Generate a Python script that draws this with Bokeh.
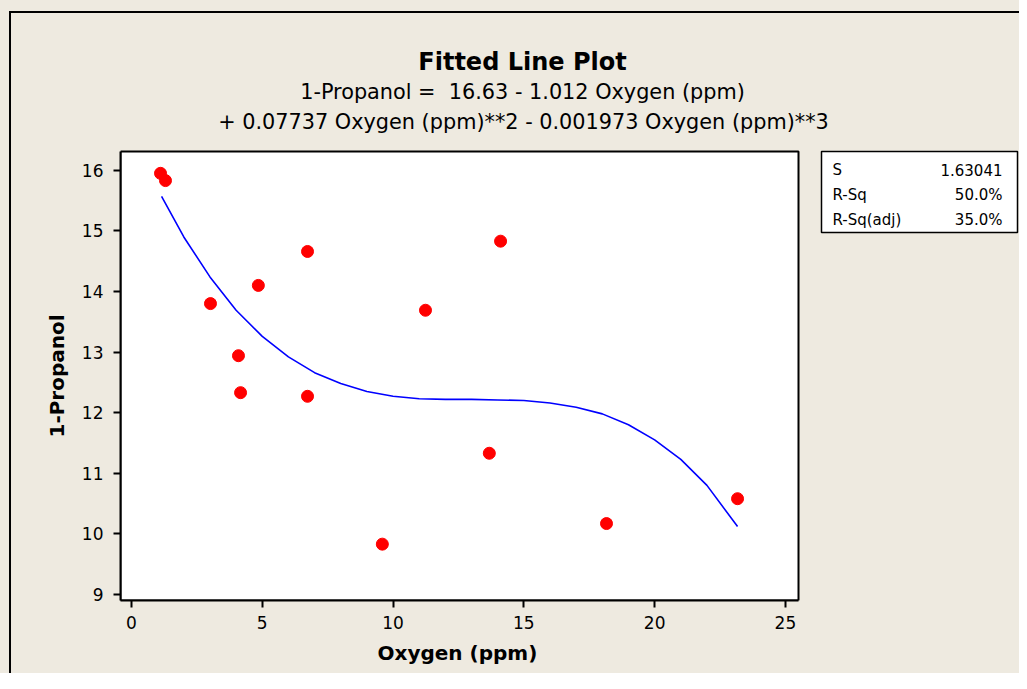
from bokeh.plotting import figure
from bokeh.models import Label, BoxAnnotation, Range1d, FixedTicker, Title
from bokeh.embed import file_html
from bokeh.resources import INLINE

# ---- data ----
oxygen = [1.11, 1.30, 3.02, 4.09, 4.17, 4.85, 6.73, 6.73, 9.59, 11.24, 13.68, 14.11, 18.16, 23.17]
propanol = [15.95, 15.83, 13.80, 12.94, 12.33, 14.10, 14.66, 12.27, 9.83, 13.69, 11.33, 14.83, 10.17, 10.58]

fit_x = [1.15, 2.0, 3.0, 4.0, 5.0, 6.0, 7.0, 8.0, 9.0, 10.0, 11.0, 12.0, 13.0, 14.0,
         15.0, 16.0, 17.0, 18.0, 19.0, 20.0, 21.0, 22.0, 23.17]
fit_y = [15.57, 14.90, 14.24, 13.69, 13.26, 12.92, 12.66, 12.48, 12.35, 12.27, 12.23,
         12.22, 12.22, 12.21, 12.20, 12.16, 12.09, 11.98, 11.80, 11.55, 11.23, 10.80, 10.12]

x_ticks = [0, 5, 10, 15, 20, 25]
y_ticks = [9, 10, 11, 12, 13, 14, 15, 16]

title_text = "Fitted Line Plot"
eq_line1 = "1-Propanol =\u00a0 16.63 - 1.012 Oxygen (ppm)"
eq_line2 = "+ 0.07737 Oxygen (ppm)**2 - 0.001973 Oxygen (ppm)**3"
x_label = "Oxygen (ppm)"
y_label = "1-Propanol"
stat_names = ["S", "R-Sq", "R-Sq(adj)"]
stat_values = ["1.63041", "50.0%", "35.0%"]

# ---- layout (pixel positions are canvas px) ----
BG = "#EEEAE0"
FONT = "DejaVu Sans"
W, H = 1019, 673
PL, PT, PR, PB = 120, 151, 798, 600      # white plot area box
XPU = (PR - PL) / (25.5 + 0.42)          # px per x unit
YPU = (PB - PT) / (16.31 - 8.90)         # px per y unit
AX0, AX1 = -0.42, 25.5                   # visible x axis extent
AY0, AY1 = 8.90, 16.31                   # visible y axis extent
# the frame spans from the plot-area left/bottom to the canvas top/right
FX1 = AX0 + (W - PL) / XPU
FY1 = AY0 + PB / YPU

bg_css = ("linear-gradient(black, black) 9px 11px / 2px 100% no-repeat, "
          "linear-gradient(black, black) 9px 11px / 100% 2px no-repeat, " + BG)

p = figure(width=W, height=H,
           min_border_left=PL, min_border_top=0,
           min_border_right=0, min_border_bottom=H - PB,
           x_range=Range1d(AX0, FX1), y_range=Range1d(AY0, FY1),
           output_backend="svg", toolbar_location=None,
           background_fill_alpha=0, border_fill_alpha=0,
           styles={"background": bg_css})

p.grid.visible = False
p.outline_line_color = None

for ax in (p.xaxis[0], p.yaxis[0]):
    ax.axis_line_color = "black"
    ax.axis_line_width = 2
    ax.major_tick_line_color = "black"
    ax.major_tick_line_width = 2
    ax.major_tick_out = 7
    ax.major_tick_in = 0
    ax.minor_tick_line_color = None
    ax.major_label_text_font = FONT
    ax.major_label_text_font_size = "17px"
    ax.major_label_text_color = "black"

p.xaxis[0].bounds = (AX0, AX1)
p.yaxis[0].bounds = (AY0, AY1)
p.xaxis[0].ticker = FixedTicker(ticks=x_ticks)
p.yaxis[0].ticker = FixedTicker(ticks=y_ticks)
p.xaxis[0].major_label_standoff = 8
p.yaxis[0].major_label_standoff = 10

# axis titles placed under / beside the visible axis extent
p.add_layout(Title(text=x_label, align="left", offset=257, standoff=14,
                   text_font=FONT, text_font_size="20px", text_font_style="bold",
                   text_color="black"), "below")
p.add_layout(Title(text=y_label, align="left", offset=163, standoff=19,
                   text_font=FONT, text_font_size="20px", text_font_style="bold",
                   text_color="black"), "left")

# white plot area with black frame
p.add_layout(BoxAnnotation(left=AX0, right=AX1, bottom=AY0, top=AY1,
                           fill_color="white", fill_alpha=1.0,
                           line_color="black", line_alpha=1.0, line_width=2,
                           level="underlay"))

p.line(fit_x, fit_y, line_color="#0000FF", line_width=1.6)
p.scatter(oxygen, propanol, size=12, fill_color="#FF0000", line_color="#FF0000")


def px2x(px):
    return AX0 + (px - PL) / XPU


def px2y(py):
    return AY0 + (PB - py) / YPU


p.add_layout(Label(x=px2x(522), y=px2y(61), text=title_text, text_align="center",
                   text_baseline="middle", text_font=FONT, text_font_size="24px",
                   text_font_style="bold", text_color="black"))
p.add_layout(Label(x=px2x(522), y=px2y(91), text=eq_line1, text_align="center",
                   text_baseline="middle", text_font=FONT, text_font_size="20.8px",
                   text_color="black"))
p.add_layout(Label(x=px2x(523), y=px2y(121), text=eq_line2, text_align="center",
                   text_baseline="middle", text_font=FONT, text_font_size="20.8px",
                   text_color="black"))

p.add_layout(BoxAnnotation(left=px2x(821), right=px2x(1017), top=px2y(151), bottom=px2y(232),
                           fill_color="white", fill_alpha=1.0,
                           line_color="black", line_alpha=1.0, line_width=1.5))
row_y = [169, 194, 219]
for name, val, ry in zip(stat_names, stat_values, row_y):
    p.add_layout(Label(x=px2x(832), y=px2y(ry), text=name, text_align="left",
                       text_baseline="middle", text_font=FONT, text_font_size="15px",
                       text_color="black"))
    p.add_layout(Label(x=px2x(1002), y=px2y(ry), text=val, text_align="right",
                       text_baseline="middle", text_font=FONT, text_font_size="15px",
                       text_color="black"))

open("out.html", "w").write(file_html(p, INLINE))
